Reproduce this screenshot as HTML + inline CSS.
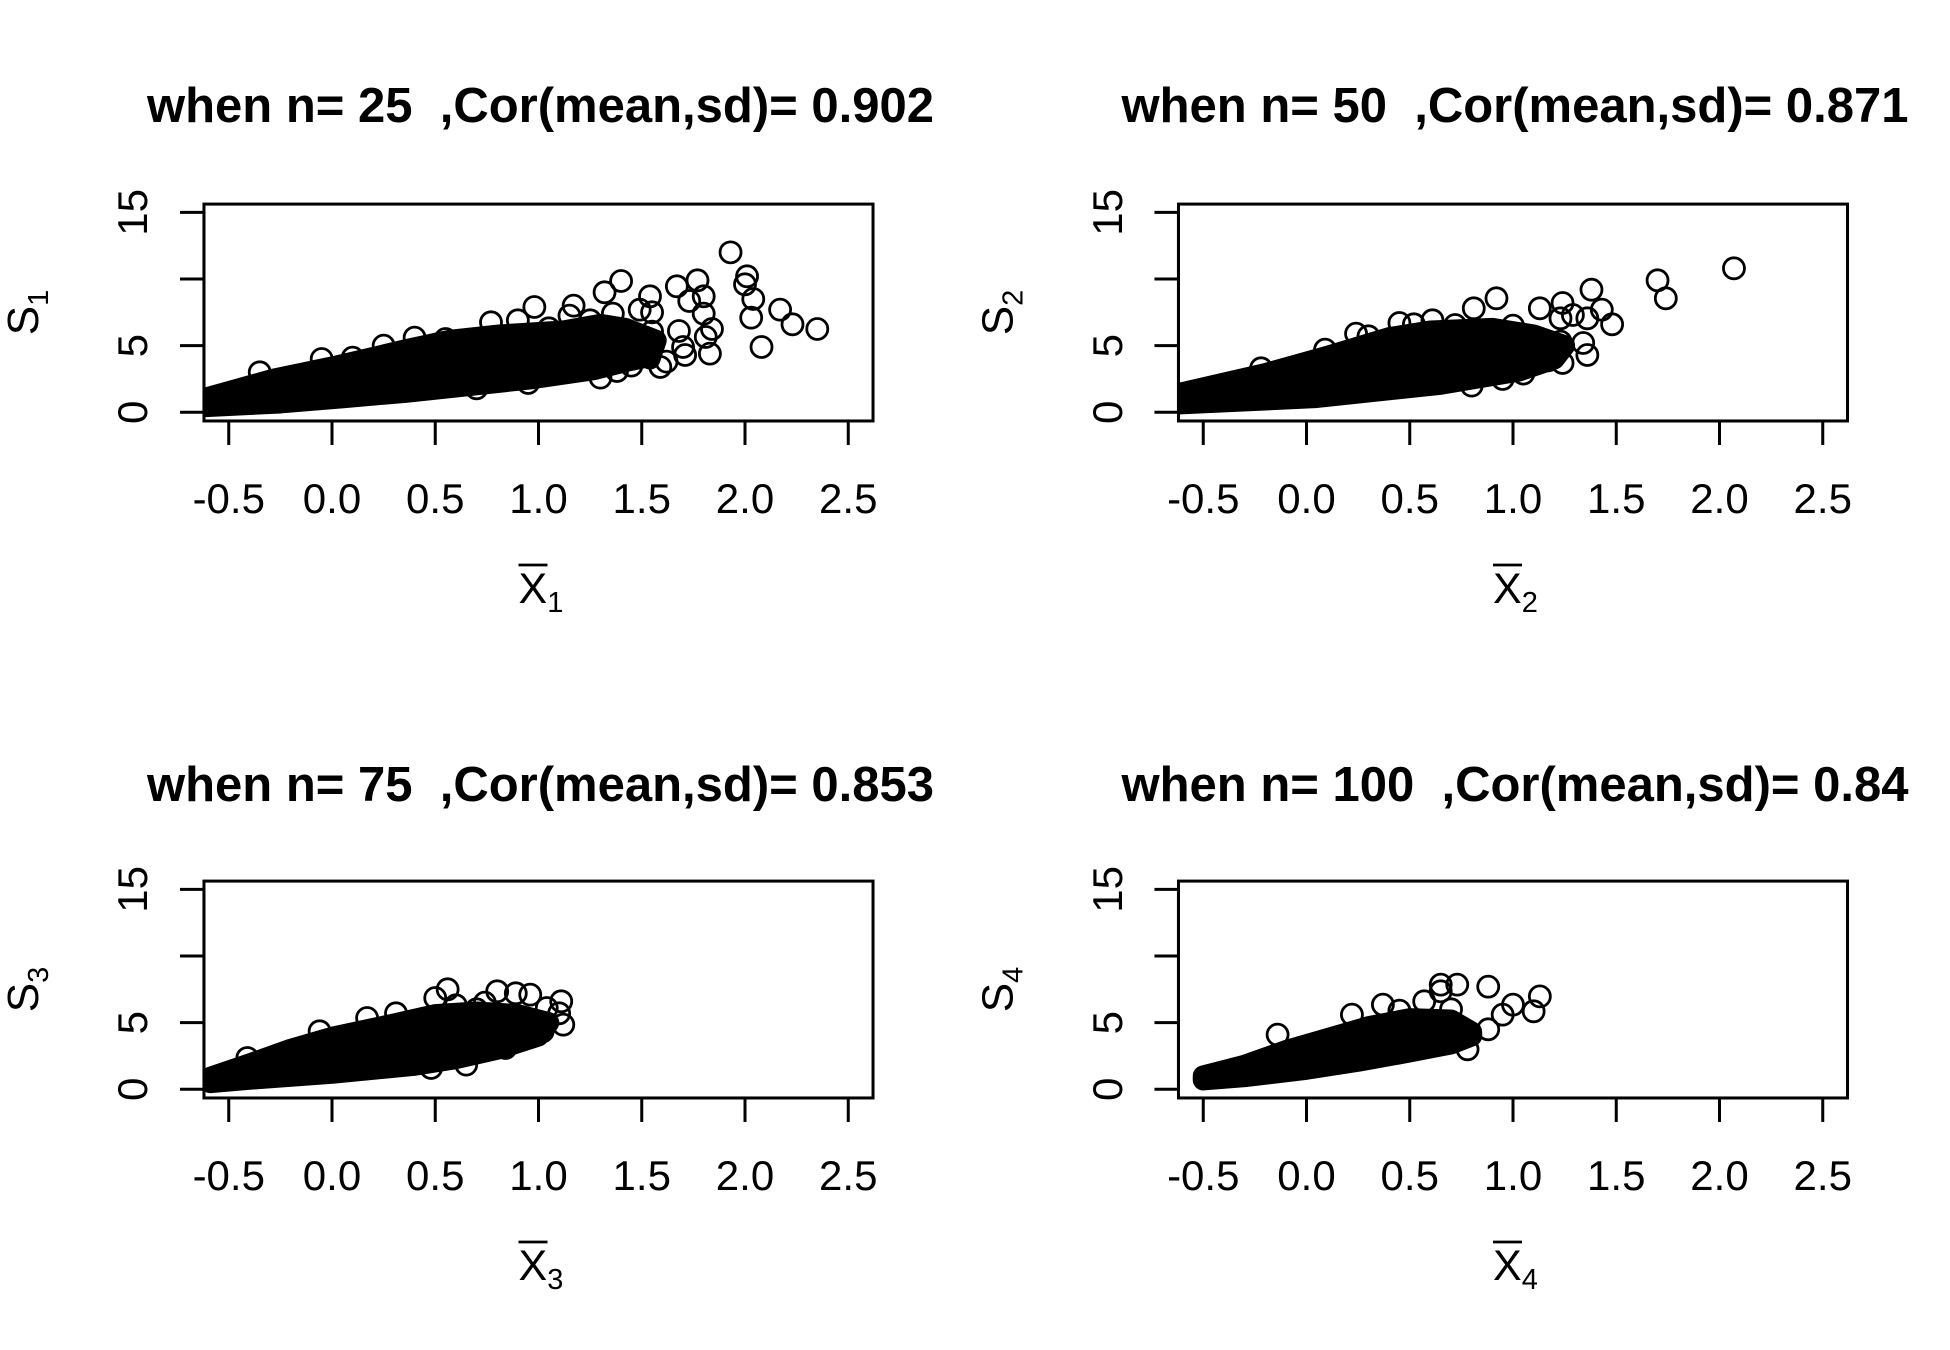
<!DOCTYPE html>
<html><head><meta charset="utf-8"><style>
html,body{margin:0;padding:0;background:#fff;}
svg{display:block;font-family:"Liberation Sans",Arial,sans-serif;}
</style></head><body>
<svg id="chart" width="1950" height="1350" viewBox="0 0 1950 1350" xmlns="http://www.w3.org/2000/svg"></svg>
<script>
// ---- data ----
const titles = ["when n= 25  ,Cor(mean,sd)= 0.902","when n= 50  ,Cor(mean,sd)= 0.871","when n= 75  ,Cor(mean,sd)= 0.853","when n= 100  ,Cor(mean,sd)= 0.84"];
const xTicks = [-0.5,0.0,0.5,1.0,1.5,2.0,2.5];
const xTickLabels = ["-0.5","0.0","0.5","1.0","1.5","2.0","2.5"];
const yTicks = [0,5,10,15];
const yTickLabels = ["0","5","","15"];

const p1UpX = [-0.65,-0.28,0.03,0.36,0.57,0.81,1.12,1.30,1.42,1.57,1.54];
const p1UpY = [0.9,2.5,3.5,4.7,5.4,5.8,6.1,6.6,6.3,5.4,4.0];
const p1LoX = [-0.65,-0.25,0.06,0.36,0.66,0.96,1.27,1.42,1.54];
const p1LoY = [0.4,0.7,1.1,1.5,2.0,2.5,3.2,3.8,4.2];
const p1OutX = [1.93,2.01,2.0,2.04,2.03,2.17,2.23,2.35,2.08,1.77,1.67,1.80,1.73,1.80,1.68,1.84,1.81,1.83,1.71,1.62,1.59,1.40,1.32,1.54,1.17,0.98,1.49,1.55,1.15,0.77,0.90,1.55,1.70,0.4,0.55,0.25,-0.05,0.1,-0.35,1.05,1.25,1.36,1.3,1.38,1.45,0.7,0.95];
const p1OutY = [12.0,10.2,9.6,8.5,7.1,7.7,6.6,6.25,4.9,9.9,9.45,8.7,8.35,7.4,6.1,6.25,5.65,4.4,4.3,3.8,3.4,9.85,9.0,8.7,8.0,7.9,7.7,7.5,7.25,6.75,6.9,6.05,4.9,5.6,5.5,5.0,4.0,4.1,3.0,6.3,6.9,7.4,2.6,3.1,3.5,1.8,2.2];

const p2UpX = [-0.65,-0.2,0.1,0.4,0.6,0.9,1.1,1.25];
const p2UpY = [1.3,2.9,4.2,5.6,6.1,6.3,5.8,5.0];
const p2LoX = [-0.65,0.04,0.65,1.03,1.2];
const p2LoY = [0.6,1.1,2.1,3.1,4.0];
const p2OutX = [2.07,1.70,1.74,1.38,1.48,1.43,1.36,1.29,1.24,1.13,0.92,0.81,1.36,1.34,1.24,1.23,1.23,1.17,0.24,-0.22,0.09,0.45,0.61,0.72,0.52,0.3,1.0,1.05,0.8,0.95];
const p2OutY = [10.8,9.9,8.55,9.2,6.6,7.7,7.05,7.3,8.2,7.8,8.55,7.8,4.3,5.2,3.7,5.3,7.05,3.9,5.9,3.3,4.7,6.7,6.9,6.55,6.6,5.7,6.5,2.9,2.0,2.5];

const p3UpX = [-0.59,-0.4,-0.2,0.0,0.3,0.5,0.7,0.9,1.05];
const p3UpY = [0.9,1.9,3.0,3.9,4.9,5.6,5.8,5.6,5.0];
const p3LoX = [-0.59,-0.4,0.0,0.4,0.6,0.8,1.0];
const p3LoY = [0.5,0.75,1.2,1.8,2.3,3.0,4.0];
const p3OutX = [0.56,0.50,0.80,0.89,0.96,1.11,1.12,1.10,1.04,0.74,1.02,0.95,0.84,0.65,0.48,0.31,0.17,-0.06,-0.41,0.6,0.7];
const p3OutY = [7.5,6.85,7.35,7.2,7.1,6.6,4.85,5.7,6.1,6.5,4.35,4.1,3.1,1.85,1.6,5.7,5.35,4.35,2.35,6.3,6.0];

const p4UpX = [-0.5,-0.3,-0.1,0.1,0.3,0.5,0.7,0.8];
const p4UpY = [1.0,1.8,2.9,3.8,4.7,5.3,5.2,4.3];
const p4LoX = [-0.5,-0.3,0.0,0.25,0.5,0.7,0.8];
const p4LoY = [0.7,0.95,1.5,2.1,2.8,3.4,4.0];
const p4OutX = [1.13,1.10,1.0,0.95,0.88,0.88,0.73,0.65,0.65,0.78,0.57,-0.14,0.37,0.22,0.45,0.7];
const p4OutY = [6.97,5.85,6.35,5.6,4.5,7.7,7.85,7.85,7.35,3.0,6.6,4.1,6.35,5.6,5.9,6.0];

const panels = [
  {up:[p1UpX,p1UpY], lo:[p1LoX,p1LoY], out:[p1OutX,p1OutY], sub:"1"},
  {up:[p2UpX,p2UpY], lo:[p2LoX,p2LoY], out:[p2OutX,p2OutY], sub:"2"},
  {up:[p3UpX,p3UpY], lo:[p3LoX,p3LoY], out:[p3OutX,p3OutY], sub:"3"},
  {up:[p4UpX,p4UpY], lo:[p4LoX,p4LoY], out:[p4OutX,p4OutY], sub:"4"}
];
// ---- layout ----
const colX0 = [332, 1306.5];
const rowY0 = [412.3, 1089.3];
const XU = 206.5, YU = 13.33;
const R = 10.5;
const NS = "http://www.w3.org/2000/svg";
const svg = document.getElementById('chart');
function mk(tag, attrs, parent){ const e=document.createElementNS(NS,tag); for(const k in attrs) e.setAttribute(k,attrs[k]); (parent||svg).appendChild(e); return e; }

panels.forEach((p,i)=>{
  const c=i%2, r=Math.floor(i/2);
  const sx = v => colX0[c] + v*XU;
  const sy = v => rowY0[r] - v*YU;
  const bx0 = sx(-0.62), bx1 = sx(2.62), by0 = sy(15.62), by1 = sy(-0.65);
  const g = mk('g',{});
  
  
  const cx = (bx0+bx1)/2;
  const t = mk('text',{x:cx+2,y:r?801:122,'text-anchor':'middle','font-size':49,'font-weight':'bold','xml:space':'preserve'},g);
  t.style.whiteSpace='pre';
  t.textContent = titles[i];
  
  
  const cp = mk('clipPath',{id:'clip'+i},g);
  mk('rect',{x:bx0,y:by0,width:bx1-bx0,height:by1-by0},cp);
  const pg = mk('g',{'clip-path':'url(#clip'+i+')'},g);
  const pts=[];
  p.up[0].forEach((x,k)=>pts.push(sx(x)+','+sy(p.up[1][k])));
  for(let k=p.lo[0].length-1;k>=0;k--) pts.push(sx(p.lo[0][k])+','+sy(p.lo[1][k]));
  const core = mk('polygon',{points:pts.join(' '),fill:'#000',stroke:'#000','stroke-width':2*R,'stroke-linejoin':'round'},pg);
  
  
  p.out[0].forEach((x,k)=>{
    const ci = mk('circle',{cx:sx(x),cy:sy(p.out[1][k]),r:R,fill:'none',stroke:'#000','stroke-width':2.8},pg);
    
    
  });
  const box = mk('rect',{x:bx0,y:by0,width:bx1-bx0,height:by1-by0,fill:'none',stroke:'#000','stroke-width':3},g);
  
  
  mk('line',{x1:sx(xTicks[0]),x2:sx(xTicks[xTicks.length-1]),y1:by1,y2:by1,stroke:'#000','stroke-width':3},g);
  xTicks.forEach((v,k)=>{
    mk('line',{x1:sx(v),x2:sx(v),y1:by1,y2:by1+24,stroke:'#000','stroke-width':3},g);
    const tl = mk('text',{x:sx(v),y:r?1190:513,'text-anchor':'middle','font-size':42},g);
    tl.textContent = xTickLabels[k];
    
    
  });
  mk('line',{x1:bx0,x2:bx0,y1:sy(0),y2:sy(15),stroke:'#000','stroke-width':3},g);
  const ylx = c ? 1107 : 132;
  yTicks.forEach((v,k)=>{
    mk('line',{x1:bx0,x2:bx0-24,y1:sy(v),y2:sy(v),stroke:'#000','stroke-width':3},g);
    if(yTickLabels[k]){
      const tl = mk('text',{x:0,y:0,'text-anchor':'middle','font-size':42,transform:`translate(${ylx+15},${sy(v)}) rotate(-90)`},g);
      tl.textContent = yTickLabels[k];
      
      
    }
  });
  const yt = mk('text',{x:0,y:0,'text-anchor':'middle','font-size':44,transform:`translate(${bx0-166},${(by0+by1)/2}) rotate(-90)`},g);
  yt.innerHTML = 'S<tspan font-size="29" dy="10">'+p.sub+'</tspan>';
  
  
  const xt = mk('text',{x:cx-20,y:r?1280:603,'font-size':43},g);
  xt.innerHTML = 'X<tspan font-size="29" dy="9">'+p.sub+'</tspan>';
  
  
  mk('line',{x1:cx-20,x2:cx+9,y1:(r?1280:603)-38,y2:(r?1280:603)-38,stroke:'#000','stroke-width':2.8},g);
});
</script>
</body></html>
